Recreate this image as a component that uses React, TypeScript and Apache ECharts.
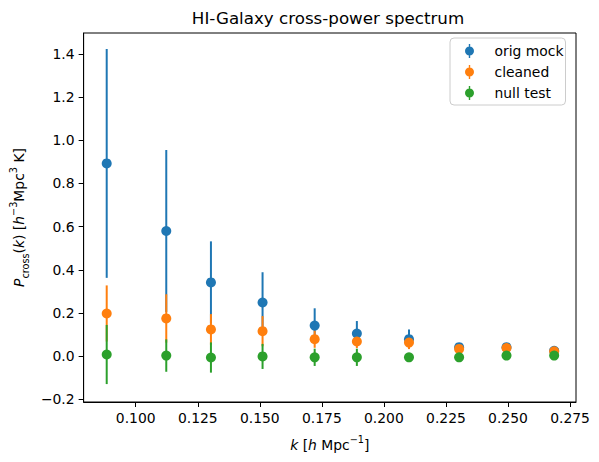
import React, { useEffect, useRef } from "react";
import * as echarts from "echarts";

const kValues = [0.0883, 0.1123, 0.1303, 0.1511, 0.1721, 0.1891, 0.2101, 0.2303, 0.2494, 0.2686];
const origMock = [0.893, 0.58, 0.342, 0.249, 0.142, 0.105, 0.079, 0.042, 0.042, 0.025];
const origMockErr = [0.53, 0.375, 0.19, 0.14, 0.08, 0.058, 0.045, 0.012, 0.012, 0.008];
const cleaned = [0.198, 0.175, 0.124, 0.116, 0.079, 0.068, 0.063, 0.034, 0.038, 0.023];
const cleanedErr = [0.13, 0.112, 0.071, 0.07, 0.04, 0.03, 0.03, 0.01, 0.01, 0.006];
const nullTest = [0.008, 0.003, -0.006, -0.001, -0.005, -0.005, -0.005, -0.005, 0.003, 0.003];
const nullTestErr = [0.137, 0.075, 0.07, 0.058, 0.04, 0.04, 0.02, 0.01, 0.008, 0.006];

const xTicks = [0.1, 0.125, 0.15, 0.175, 0.2, 0.225, 0.25, 0.275];
const yTicks = [-0.2, 0, 0.2, 0.4, 0.6, 0.8, 1.0, 1.2, 1.4];

const seriesDefs = [
  { name: "orig mock", values: origMock, errs: origMockErr, color: "#1f77b4" },
  { name: "cleaned", values: cleaned, errs: cleanedErr, color: "#ff7f0e" },
  { name: "null test", values: nullTest, errs: nullTestErr, color: "#2ca02c" },
];

const FONT = "DejaVu Sans";
const LEGEND_ICON = "path://M4.3,0H5.7V14H4.3Z M9.5,7A4.5,4.5 0 1,1 0.5,7A4.5,4.5 0 1,1 9.5,7Z";

export default function App() {
  const ref = useRef<HTMLDivElement>(null);
  useEffect(() => {
    if (!ref.current) return;
    const chart = echarts.init(ref.current, undefined, { renderer: "svg" });
    const series: any[] = [];
    seriesDefs.forEach((s) => {
      series.push({
        name: s.name + " err",
        type: "custom",
        data: kValues.map((k, i) => [k, s.values[i] - s.errs[i], s.values[i] + s.errs[i]]),
        encode: { x: 0, y: [1, 2] },
        renderItem: (params: any, api: any) => {
          const x = api.value(0);
          const p1 = api.coord([x, api.value(1)]);
          const p2 = api.coord([x, api.value(2)]);
          return {
            type: "line",
            shape: { x1: p1[0], y1: p1[1], x2: p2[0], y2: p2[1] },
            style: { stroke: s.color, lineWidth: 2 },
          };
        },
        silent: true,
      });
      series.push({
        name: s.name,
        type: "scatter",
        data: kValues.map((k, i) => [k, s.values[i]]),
        symbol: "circle",
        symbolSize: 10,
        itemStyle: { color: s.color, opacity: 1 },
      });
    });

    chart.setOption({
      animation: false,
      textStyle: { fontFamily: FONT },
      title: {
        text: "HI-Galaxy cross-power spectrum",
        left: 328,
        textAlign: "center",
        top: 9,
        padding: 0,
        textStyle: { fontFamily: FONT, fontSize: 16.7, fontWeight: "normal", color: "#000" },
      },
      legend: {
        orient: "vertical",
        left: 450,
        top: 38,
        padding: [6, 2, 5, 15],
        itemWidth: 10,
        itemHeight: 14,
        itemGap: 7,
        backgroundColor: "#ffffff",
        borderColor: "#cccccc",
        borderWidth: 1,
        borderRadius: 4,
        textStyle: { fontFamily: FONT, fontSize: 13.9, color: "#000", padding: [0, 0, 0, 15] },
        data: seriesDefs.map((s) => ({ name: s.name, icon: LEGEND_ICON })),
      },
      grid: {
        left: 80,
        right: 23,
        top: 33,
        bottom: 60,
        show: true,
        borderColor: "#000",
        borderWidth: 1,
        backgroundColor: "transparent",
      },
      xAxis: {
        type: "value",
        min: 0.079,
        max: 0.2774,
        name: "{i|k} [{i|h} Mpc{sup|−1}]",
        nameLocation: "middle",
        nameGap: 32,
        nameTextStyle: {
          fontFamily: FONT,
          fontSize: 13.9,
          color: "#000",
          lineHeight: 22,
          rich: {
            i: { fontFamily: FONT, fontSize: 13.9, fontStyle: "italic", color: "#000", lineHeight: 22 },
            sup: { fontFamily: FONT, fontSize: 9.7, color: "#000", lineHeight: 10, verticalAlign: "top" },
          },
        },
        axisLine: { show: true, onZero: false, lineStyle: { color: "#000", width: 1 } },
        axisTick: { show: true, customValues: xTicks, length: 5, lineStyle: { color: "#000", width: 1 } },
        axisLabel: {
          customValues: xTicks,
          margin: 9,
          fontFamily: FONT,
          fontSize: 13.9,
          color: "#000",
          formatter: (v: number) => v.toFixed(3),
        },
        splitLine: { show: false },
      },
      yAxis: {
        type: "value",
        min: -0.212,
        max: 1.497,
        name: "{i|P}{sub|cross}({i|k}) [{i|h}{sup|−3}Mpc{sup|3} K]",
        nameLocation: "middle",
        nameRotate: 90,
        nameGap: 52,
        nameTextStyle: {
          fontFamily: FONT,
          fontSize: 13.9,
          color: "#000",
          lineHeight: 22,
          rich: {
            i: { fontFamily: FONT, fontSize: 13.9, fontStyle: "italic", color: "#000", lineHeight: 22 },
            sup: { fontFamily: FONT, fontSize: 9.7, color: "#000", lineHeight: 10, verticalAlign: "top" },
            sub: { fontFamily: FONT, fontSize: 9.7, color: "#000", lineHeight: 14, verticalAlign: "bottom" },
          },
        },
        axisLine: { show: true, onZero: false, lineStyle: { color: "#000", width: 1 } },
        axisTick: { show: true, customValues: yTicks, length: 5, lineStyle: { color: "#000", width: 1 } },
        axisLabel: {
          customValues: yTicks,
          margin: 9,
          fontFamily: FONT,
          fontSize: 13.9,
          color: "#000",
          formatter: (v: number) => (v < 0 ? "−" : "") + Math.abs(v).toFixed(1),
        },
        splitLine: { show: false },
      },
      series,
    });
    return () => chart.dispose();
  }, []);
  return (
    <div
      ref={ref}
      style={{ position: "fixed", left: 0, top: 0, width: 599, height: 462, background: "#fff" }}
    />
  );
}
